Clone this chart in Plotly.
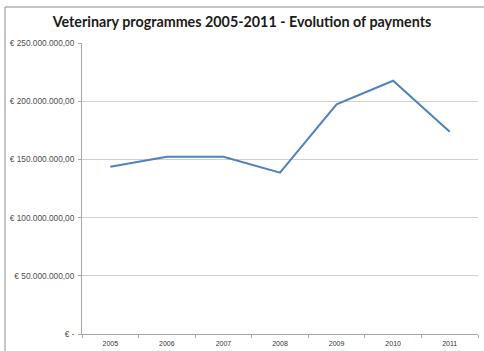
import plotly.graph_objects as go

years = ["2005", "2006", "2007", "2008", "2009", "2010", "2011"]
payments = [143.7e6, 152.3e6, 152.3e6, 138.6e6, 197.3e6, 217.6e6, 173.8e6]
tick_vals = [0, 50e6, 100e6, 150e6, 200e6, 250e6]
tick_text = ["€ -", "€ 50.000.000,00", "€ 100.000.000,00", "€ 150.000.000,00",
             "€ 200.000.000,00", "€ 250.000.000,00"]

fig = go.Figure()
fig.add_trace(go.Scatter(x=years, y=payments, mode="lines",
                         line=dict(color="#4F81BD", width=2), hoverinfo="skip"))

W, H = 484, 351
L, R, T, B = 82, 6, 43, 17
pw, ph = W - L - R, H - T - B
bx = (5 - L) / pw
by = 1 + (T - 7) / ph

fig.update_layout(
    width=W, height=H,
    margin=dict(l=L, r=R, t=T, b=B, autoexpand=False),
    paper_bgcolor="white", plot_bgcolor="white",
    showlegend=False,
    title=dict(text="<b>Veterinary programmes 2005-2011 - Evolution of payments</b>",
               x=0.5, xanchor="center", y=1 - 22 / H, yanchor="middle",
               font=dict(family="Lato", size=14.3, color="#1a1a1a")),
    xaxis=dict(type="category", range=[-0.5, 6.5], showgrid=False, showline=True,
               linecolor="#a6a6a6", linewidth=1, ticks="outside",
               tickson="boundaries", ticklen=3, tickcolor="#a6a6a6",
               ticklabelstandoff=3, automargin=False,
               tickfont=dict(family="Liberation Sans", size=7, color="#333333")),
    yaxis=dict(range=[0, 250e6], tickvals=tick_vals, ticktext=tick_text,
               showgrid=True, gridcolor="#d0d0d0", gridwidth=1,
               showline=True, linecolor="#a6a6a6", linewidth=1,
               ticks="outside", ticklen=3, tickcolor="#a6a6a6", zeroline=False,
               ticklabelstandoff=2, automargin=False,
               tickfont=dict(family="Liberation Sans", size=8.3, color="#4d4d4d")),
    shapes=[
        dict(type="line", xref="paper", yref="paper", x0=bx, x1=bx, y0=-B / ph, y1=by,
             line=dict(color="#8c8c8c", width=1), layer="below"),
        dict(type="line", xref="paper", yref="paper", x0=bx, x1=(W - L) / pw, y0=by, y1=by,
             line=dict(color="#8c8c8c", width=1), layer="below"),
    ],
)

fig.write_html("out.html")
